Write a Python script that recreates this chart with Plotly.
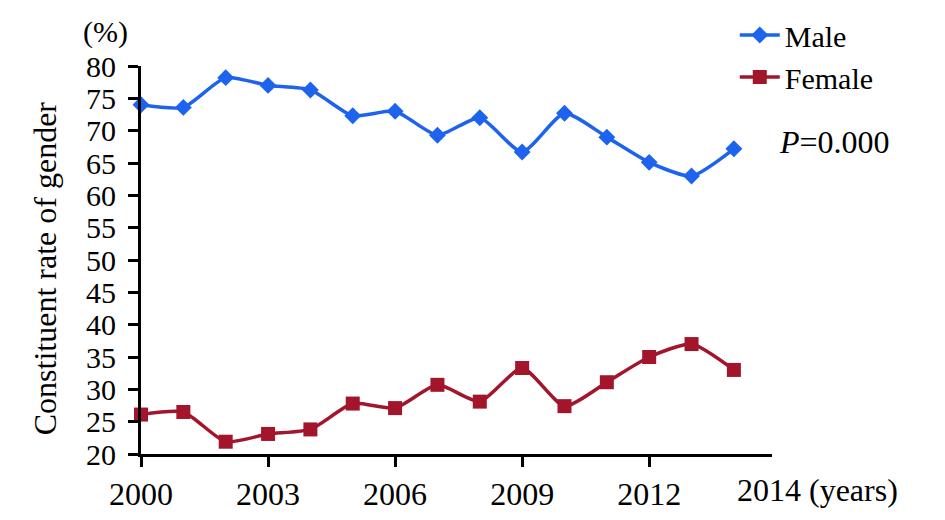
import plotly.graph_objects as go

years = list(range(2000, 2015))
male = [74.0, 73.6, 78.2, 77.0, 76.3, 72.3, 73.0, 69.3, 72.0, 66.7, 72.7, 69.0, 65.1, 63.0, 67.2]
female = [26.1, 26.5, 21.9, 23.1, 23.8, 27.8, 27.1, 30.7, 28.1, 33.3, 27.4, 31.1, 35.0, 37.0, 33.0]
x_tickvals = [2000, 2003, 2006, 2009, 2012]
x_ticktext = ["2000", "2003", "2006", "2009", "2012"]
y_tickvals = list(range(20, 85, 5))

FONT = "Liberation Serif"
FS = 32
BLUE = "#1D63EE"
RED = "#A3152B"

fig = go.Figure()
fig.add_trace(go.Scatter(
    x=years, y=male, name="Male", mode="lines+markers",
    line=dict(color=BLUE, width=3.5, shape="spline", smoothing=0.6),
    marker=dict(symbol="diamond", size=13, color=BLUE),
    cliponaxis=False,
))
fig.add_trace(go.Scatter(
    x=years, y=female, name="Female", mode="lines+markers",
    line=dict(color=RED, width=3.5, shape="spline", smoothing=0.6),
    marker=dict(symbol="square", size=14, color=RED),
    cliponaxis=False,
))

fig.update_layout(
    width=937, height=512,
    margin=dict(l=133, r=173, t=58, b=66, autoexpand=False),
    paper_bgcolor="white", plot_bgcolor="white",
    font=dict(family=FONT, size=FS, color="black"),
    showlegend=True,
    legend=dict(
        x=0.941, xanchor="left", y=1.147, yanchor="top",
        xref="paper", yref="paper",
        font=dict(family=FONT, size=30, color="black"),
        bgcolor="rgba(0,0,0,0)", itemwidth=40, tracegroupgap=0,
    ),
    xaxis=dict(
        range=[2000, 2014.9], tickvals=x_tickvals, ticktext=x_ticktext,
        showgrid=False, zeroline=False,
        showline=True, linecolor="black", linewidth=3,
        ticks="outside", ticklen=10, tickwidth=3, tickcolor="black",
        tickfont=dict(family=FONT, size=FS, color="black"),
    ),
    yaxis=dict(
        range=[20, 80], tickvals=y_tickvals,
        showgrid=False, zeroline=False,
        showline=True, linecolor="black", linewidth=3,
        ticks="outside", ticklen=10, tickwidth=3, tickcolor="black",
        tickfont=dict(family=FONT, size=30, color="black"),
        ticklabelstandoff=6,
    ),
    annotations=[
        dict(text="Constituent rate of gender", textangle=-90,
             xref="paper", yref="paper", x=-0.152, y=0.479,
             xanchor="center", yanchor="middle", showarrow=False,
             font=dict(family=FONT, size=FS, color="black")),
        dict(text="(%)", xref="paper", yref="paper", x=-0.0555, y=1.0,
             yshift=34, xanchor="center", yanchor="middle", showarrow=False,
             font=dict(family=FONT, size=30, color="black")),
        dict(text="2014 (years)", xref="paper", yref="paper", x=0.941, y=0,
             xanchor="left", yanchor="middle", yshift=-36, showarrow=False,
             font=dict(family=FONT, size=FS, color="black")),
        dict(text="<i>P</i>=0.000", xref="paper", yref="paper", x=1.008, y=0.804,
             xanchor="left", yanchor="middle", showarrow=False,
             font=dict(family=FONT, size=FS, color="black")),
    ],
)

fig.write_html("out.html")
